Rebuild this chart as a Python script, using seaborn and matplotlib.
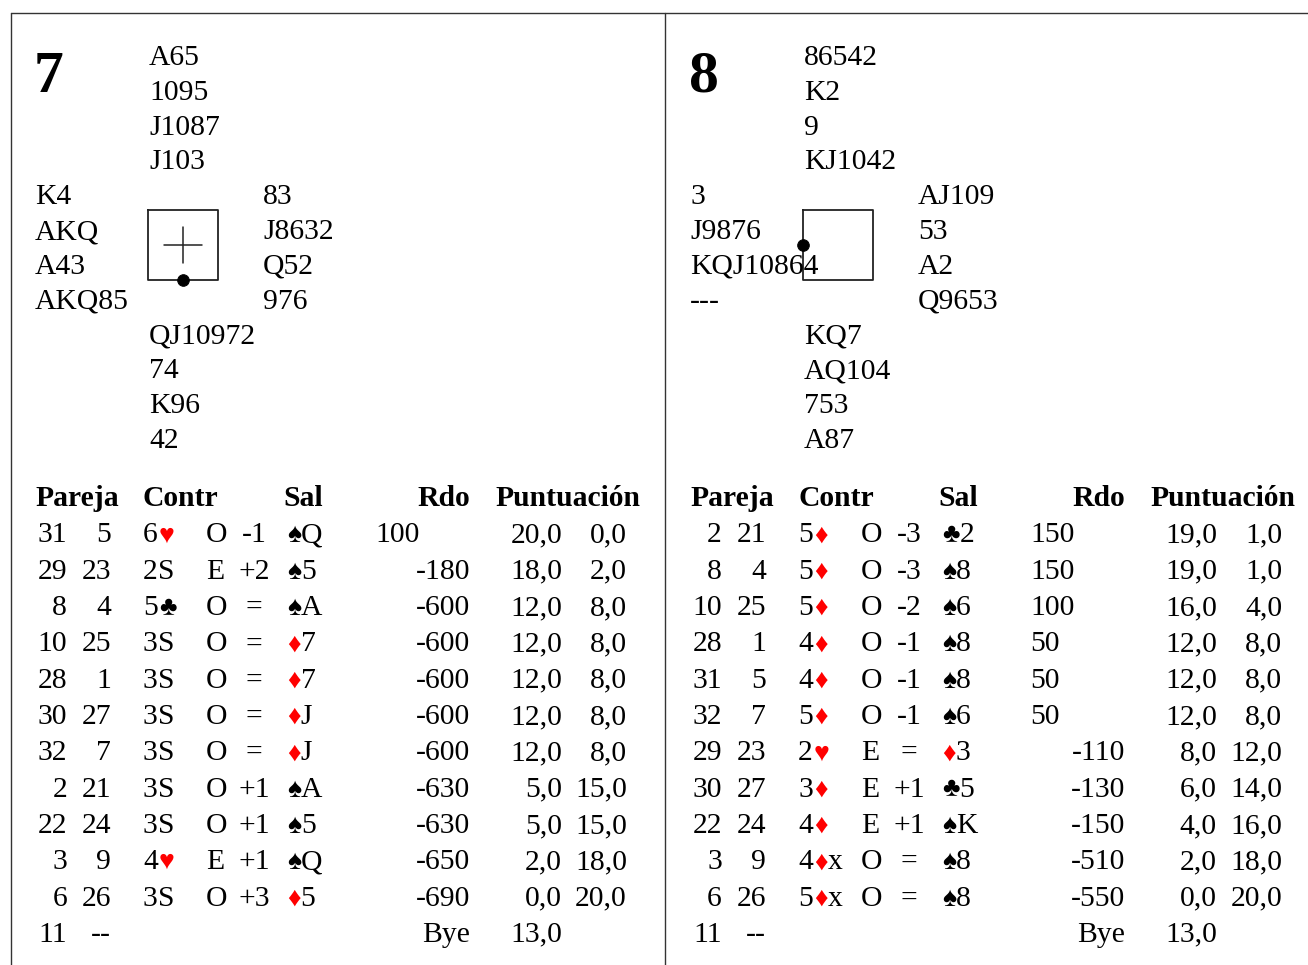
import numpy as np
import pandas as pd
import seaborn as sns
import matplotlib.pyplot as plt

# board numbers and hands (North, West, East, South; suits S H D C)
boards = [7, 8]
north = [["A65", "1095", "J1087", "J103"], ["86542", "K2", "9", "KJ1042"]]
west = [["K4", "AKQ", "A43", "AKQ85"], ["3", "J9876", "KQJ10864", "---"]]
east = [["83", "J8632", "Q52", "976"], ["AJ109", "53", "A2", "Q9653"]]
south = [["QJ10972", "74", "K96", "42"], ["KQ7", "AQ104", "753", "A87"]]
dealer = ["S", "W"]
vul_cross = [True, False]

# travellers
b7_ns = ["31", "29", "8", "10", "28", "30", "32", "2", "22", "3", "6", "11"]
b7_ew = ["5", "23", "4", "25", "1", "27", "7", "21", "24", "9", "26", "--"]
b7_contr = ["6♥", "2S", "5♣", "3S", "3S", "3S", "3S", "3S", "3S", "4♥", "3S", ""]
b7_decl = ["O", "E", "O", "O", "O", "O", "O", "O", "O", "E", "O", ""]
b7_res = ["-1", "+2", "=", "=", "=", "=", "=", "+1", "+1", "+1", "+3", ""]
b7_lead = ["♠Q", "♠5", "♠A", "♦7", "♦7", "♦J", "♦J", "♠A", "♠5", "♠Q", "♦5", ""]
b7_score = [100, -180, -600, -600, -600, -600, -600, -630, -630, -650, -690, "Bye"]
b7_nsp = [20, 18, 12, 12, 12, 12, 12, 5, 5, 2, 0, 13]
b7_ewp = [0, 2, 8, 8, 8, 8, 8, 15, 15, 18, 20, None]

b8_ns = ["2", "8", "10", "28", "31", "32", "29", "30", "22", "3", "6", "11"]
b8_ew = ["21", "4", "25", "1", "5", "7", "23", "27", "24", "9", "26", "--"]
b8_contr = ["5♦", "5♦", "5♦", "4♦", "4♦", "5♦", "2♥", "3♦", "4♦", "4♦x", "5♦x", ""]
b8_decl = ["O", "O", "O", "O", "O", "O", "E", "E", "E", "O", "O", ""]
b8_res = ["-3", "-3", "-2", "-1", "-1", "-1", "=", "+1", "+1", "=", "=", ""]
b8_lead = ["♣2", "♠8", "♠6", "♠8", "♠8", "♠6", "♦3", "♣5", "♠K", "♠8", "♠8", ""]
b8_score = [150, 150, 100, 50, 50, 50, -110, -130, -150, -510, -550, "Bye"]
b8_nsp = [19, 19, 16, 12, 12, 12, 8, 6, 4, 2, 0, 13]
b8_ewp = [1, 1, 4, 8, 8, 8, 12, 14, 16, 18, 20, None]

headers = ["Pareja", "Contr", "Sal", "Rdo", "Puntuación"]

tables = [
    pd.DataFrame({"ns": b7_ns, "ew": b7_ew, "contr": b7_contr, "decl": b7_decl,
                  "res": b7_res, "lead": b7_lead, "score": b7_score,
                  "nsp": b7_nsp, "ewp": b7_ewp}, dtype=object),
    pd.DataFrame({"ns": b8_ns, "ew": b8_ew, "contr": b8_contr, "decl": b8_decl,
                  "res": b8_res, "lead": b8_lead, "score": b8_score,
                  "nsp": b8_nsp, "ewp": b8_ewp}, dtype=object),
]

sns.set_theme(style="white")
plt.rcParams["font.family"] = ["Liberation Serif", "DejaVu Serif"]
plt.rcParams["text.color"] = "black"
FS = 21.3
SUIT_FS = FS * 0.9

fig = plt.figure(figsize=(13.08, 9.65), dpi=100)
ax = fig.add_axes([0, 0, 1, 1])
ax.set_xlim(0, 1308)
ax.set_ylim(965, 0)
ax.axis("off")
renderer = fig.canvas.get_renderer()

RED = "#ff0000"


def rich(x, y, s):
    # left aligned text, suit symbols smaller and coloured
    for ch in s:
        if ch in "♠♥♦♣":
            col = RED if ch in "♥♦" else "black"
            t = ax.text(x + 1, y, ch, fontsize=SUIT_FS, color=col, va="baseline", ha="left")
            x += t.get_window_extent(renderer).width + 1
        else:
            t = ax.text(x, y, ch, fontsize=FS, color="black", va="baseline", ha="left")
            x += t.get_window_extent(renderer).width


def pts(v):
    return "" if v is None or pd.isna(v) else f"{v:.1f}".replace(".", ",")


# frame lines
ax.plot([11, 1308], [13, 13], color="#333333", lw=1)
ax.plot([11, 11], [13, 965], color="#333333", lw=1)
ax.plot([665, 665], [13, 965], color="#333333", lw=1)

PANEL = 655
LINE = 34.8
ROW = 36.3

for b in range(2):
    off = b * PANEL
    ax.text(34 + off, 92, str(boards[b]), fontsize=43, fontweight="bold",
            va="baseline", ha="left")
    for i in range(4):
        ax.text(149 + off, 65 + LINE * i, north[b][i], fontsize=FS, va="baseline")
        ax.text(35 + off, 65 + LINE * (i + 4), west[b][i], fontsize=FS, va="baseline")
        ax.text(263 + off, 65 + LINE * (i + 4), east[b][i], fontsize=FS, va="baseline")
        ax.text(149 + off, 65 + LINE * (i + 8), south[b][i], fontsize=FS, va="baseline")

    # compass box
    bx0, bx1, by0, by1 = 148 + off, 218 + off, 210, 280
    ax.plot([bx0, bx1, bx1, bx0, bx0], [by0, by0, by1, by1, by0], color="#222222", lw=1.3)
    cx, cy = (bx0 + bx1) / 2, (by0 + by1) / 2
    if vul_cross[b]:
        ax.plot([cx - 19, cx + 19], [cy, cy], color="#222222", lw=1.1)
        ax.plot([cx, cx], [cy - 18, cy + 18], color="#222222", lw=1.1)
    pos = {"N": (cx, by0), "S": (cx, by1), "W": (bx0, cy), "E": (bx1, cy)}[dealer[b]]
    sns.scatterplot(x=[pos[0]], y=[pos[1]], ax=ax, color="black", s=70,
                    edgecolor="black", legend=False, zorder=5)

    # traveller header
    hy = 506.5
    ax.text(35 + off, hy, headers[0], fontsize=FS, fontweight="bold", va="baseline")
    ax.text(143 + off, hy, headers[1], fontsize=FS, fontweight="bold", va="baseline")
    ax.text(283 + off, hy, headers[2], fontsize=FS, fontweight="bold", va="baseline")
    ax.text(470 + off, hy, headers[3], fontsize=FS, fontweight="bold", va="baseline", ha="right")
    ax.text(495 + off, hy, headers[4], fontsize=FS, fontweight="bold", va="baseline")

    df = tables[b]
    for i, r in df.iterrows():
        y = 542.5 + ROW * i
        ax.text(67 + off, y, r["ns"], fontsize=FS, va="baseline", ha="right")
        ax.text(111 + off, y, r["ew"], fontsize=FS, va="baseline", ha="right")
        rich(143 + off, y, r["contr"])
        ax.text(206 + off, y, r["decl"], fontsize=FS, va="baseline", ha="left")
        ax.text(254 + off, y, r["res"], fontsize=FS, va="baseline", ha="center")
        rich(286 + off, y, r["lead"])
        sc = r["score"]
        if isinstance(sc, str):
            ax.text(470 + off, y, sc, fontsize=FS, va="baseline", ha="right")
        elif sc > 0:
            ax.text(375 + off, y, str(sc), fontsize=FS, va="baseline", ha="left")
        else:
            ax.text(470 + off, y, str(sc), fontsize=FS, va="baseline", ha="right")
        ax.text(562 + off, y, pts(r["nsp"]), fontsize=FS, va="baseline", ha="right")
        ax.text(627 + off, y, pts(r["ewp"]), fontsize=FS, va="baseline", ha="right")

ax.set_xlim(0, 1308)
ax.set_ylim(965, 0)
fig.savefig("out.png", dpi=100, facecolor="white")
